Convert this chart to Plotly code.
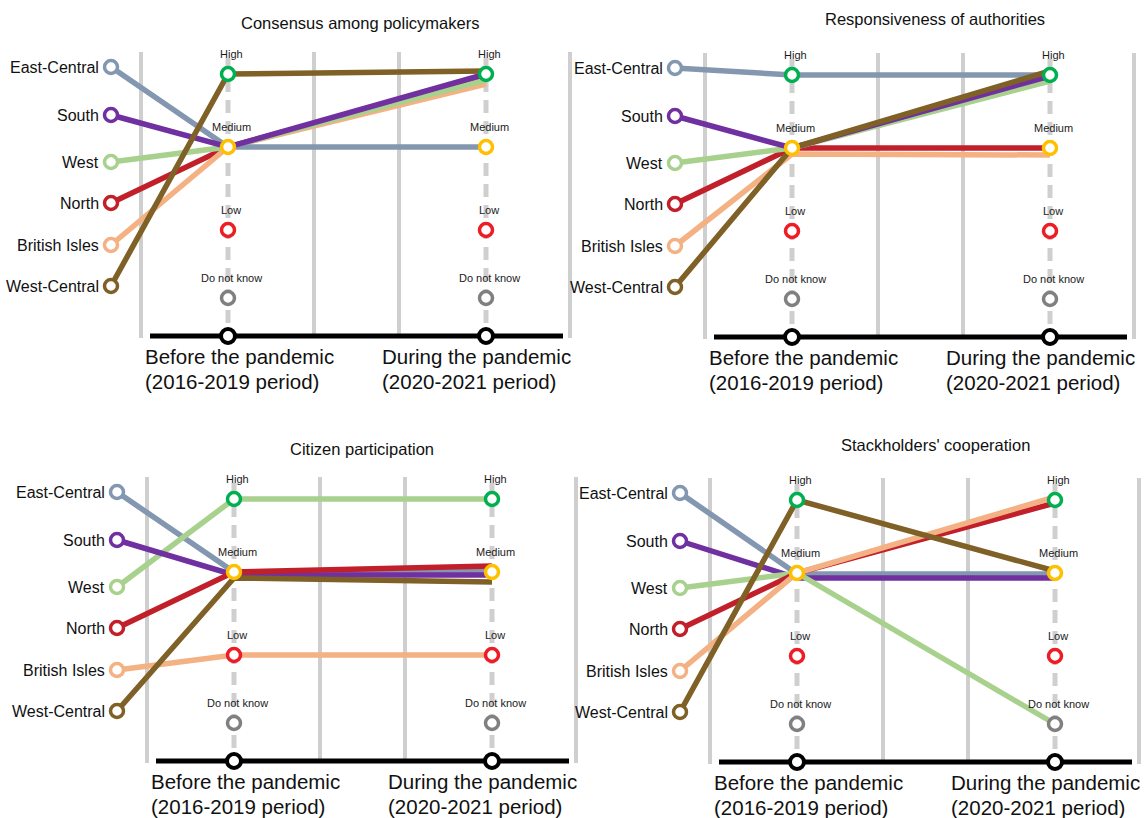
import plotly.graph_objects as go

# ---------------- data ----------------
regions = ["East-Central", "South", "West", "North", "British Isles", "West-Central"]
levels = ["High", "Medium", "Low", "Do not know"]
period_names = ["Before the pandemic", "During the pandemic"]
period_spans = ["(2016-2019 period)", "(2020-2021 period)"]
titles = ["Consensus among policymakers", "Responsiveness of authorities",
          "Citizen participation", "Stackholders' cooperation"]

consensus_before = ["Medium", "Medium", "Medium", "Medium", "Medium", "High"]
consensus_during = ["Medium", "High", "High", "High", "High", "High"]
responsiveness_before = ["High", "Medium", "Medium", "Medium", "Medium", "Medium"]
responsiveness_during = ["High", "High", "High", "Medium", "Medium", "High"]
citizen_before = ["Medium", "Medium", "High", "Medium", "Low", "Medium"]
citizen_during = ["Medium", "Medium", "High", "Medium", "Low", "Medium"]
stakeholder_before = ["Medium", "Medium", "Medium", "Medium", "Medium", "High"]
stakeholder_during = ["Medium", "Medium", "Do not know", "High", "High", "Medium"]

panels = [
    (titles[0], consensus_before, consensus_during),
    (titles[1], responsiveness_before, responsiveness_during),
    (titles[2], citizen_before, citizen_during),
    (titles[3], stakeholder_before, stakeholder_during),
]

# ---------------- style / layout ----------------
FONT = "Liberation Sans, Arial, Helvetica, sans-serif"
region_colors = ["#8497b0", "#7030a0", "#a9d18e", "#c1202b", "#f4b183", "#7f6026"]
level_colors = {"High": "#00b050", "Medium": "#ffc000", "Low": "#ee1c25", "Do not know": "#808080"}
GRAY = "#cfcfcf"
LINE_W = 5.5

# panel template geometry (local units)
REGION_X = 111
COL_X = [228, 486]
GRAY_X = [141, 314, 399, 570]
AXIS_SPAN = (150, 563)
REGION_Y = [67, 115, 162, 203, 245, 286]
LEVEL_Y = {"High": 74, "Medium": 147, "Low": 230, "Do not know": 298}
AXIS_Y = 336
GRAY_TOP, GRAY_BOT = 52, 338
COL_TOP = 58

panel_offsets = [(0, 0), (564, 1), (6, 425), (569, 426)]
title_pos = [(360, 23), (371, 18), (356, 24), (366, 19)]
period_label_x = [143, 380]
period_label_y = [356, 381]

# small vertical shifts so overlapping lines stay visible (start, end) in px
line_shift = [
    {0: (0, 0), 1: (0, 0), 2: (0, 6), 3: (0, 3), 4: (0, 10), 5: (0, -3)},
    {0: (0, 0), 1: (0, 1), 2: (0, 6), 3: (0, 0), 4: (6, 7), 5: (0, -4)},
    {0: (0, -1), 1: (3, 3), 2: (0, 0), 3: (0, -6), 4: (0, 0), 5: (6, 10)},
    {0: (1, 1), 1: (5, 5), 2: (0, 0), 3: (0, 3), 4: (0, -3), 5: (0, -2)},
]
draw_order = [
    [3, 4, 2, 0, 1, 5],
    [0, 4, 3, 2, 1, 5],
    [0, 2, 4, 1, 3, 5],
    [0, 1, 2, 3, 4, 5],
]

W, H = 1146, 818
fig = go.Figure()
annotations = []

for p, (title, before, during) in enumerate(panels):
    ox, oy = panel_offsets[p]
    sfx = "" if p == 0 else str(p + 1)
    xa, ya = "x" + sfx, "y" + sfx
    fig.update_layout({
        "xaxis" + sfx: dict(domain=[0, 1], range=[-ox, W - ox], visible=False, fixedrange=True),
        "yaxis" + sfx: dict(domain=[0, 1], range=[H - oy, -oy], visible=False, fixedrange=True),
    })

    # gray solid vertical guides
    gx, gy = [], []
    for x in GRAY_X:
        gx += [x, x, None]
        gy += [GRAY_TOP, GRAY_BOT, None]
    fig.add_trace(go.Scatter(x=gx, y=gy, mode="lines", line=dict(color=GRAY, width=4),
                             xaxis=xa, yaxis=ya, hoverinfo="skip"))
    # dashed period columns
    for cx in COL_X:
        fig.add_trace(go.Scatter(x=[cx, cx], y=[COL_TOP, AXIS_Y], mode="lines",
                                 line=dict(color=GRAY, width=5, dash="13px,8px"),
                                 xaxis=xa, yaxis=ya, hoverinfo="skip"))
    # black time axis
    fig.add_trace(go.Scatter(x=list(AXIS_SPAN), y=[AXIS_Y, AXIS_Y], mode="lines",
                             line=dict(color="black", width=5), xaxis=xa, yaxis=ya, hoverinfo="skip"))

    # region lines
    for i in draw_order[p]:
        ds, de = line_shift[p][i]
        fig.add_trace(go.Scatter(
            x=[REGION_X, COL_X[0], COL_X[1]],
            y=[REGION_Y[i], LEVEL_Y[before[i]] + ds, LEVEL_Y[during[i]] + de],
            mode="lines", line=dict(color=region_colors[i], width=LINE_W),
            xaxis=xa, yaxis=ya, name=regions[i], hoverinfo="skip"))

    # level stations
    for cx in COL_X:
        fig.add_trace(go.Scatter(
            x=[cx] * len(levels), y=[LEVEL_Y[l] for l in levels], mode="markers",
            marker=dict(size=13, color="white",
                        line=dict(color=[level_colors[l] for l in levels], width=3.5)),
            xaxis=xa, yaxis=ya, hoverinfo="skip", cliponaxis=False))
        for l in levels:
            annotations.append(dict(x=cx + 3, y=LEVEL_Y[l] - 20, xref=xa, yref=ya, text=l,
                                    showarrow=False, xanchor="center", yanchor="middle",
                                    font=dict(family=FONT, size=11, color="#1a1a1a")))
    # axis stations
    fig.add_trace(go.Scatter(x=COL_X, y=[AXIS_Y, AXIS_Y], mode="markers",
                             marker=dict(size=14, color="white", line=dict(color="black", width=4)),
                             xaxis=xa, yaxis=ya, hoverinfo="skip", cliponaxis=False))
    # region stations
    fig.add_trace(go.Scatter(x=[REGION_X] * len(regions), y=REGION_Y, mode="markers",
                             marker=dict(size=13, color="white",
                                         line=dict(color=region_colors, width=3.5)),
                             xaxis=xa, yaxis=ya, hoverinfo="skip", cliponaxis=False))
    for i, r in enumerate(regions):
        annotations.append(dict(x=REGION_X - 10, y=REGION_Y[i], xref=xa, yref=ya, text=r,
                                showarrow=False, xanchor="right", yanchor="middle",
                                font=dict(family=FONT, size=16, color="#111")))
    # title
    tx, ty = title_pos[p]
    annotations.append(dict(x=tx, y=ty, xref=xa, yref=ya, text=title, showarrow=False,
                            xanchor="center", yanchor="middle",
                            font=dict(family=FONT, size=16.5, color="#111")))
    # period labels
    for k in range(2):
        for line_text, ly in zip([period_names[k], period_spans[k]], period_label_y):
            annotations.append(dict(x=period_label_x[k], y=ly, xref=xa, yref=ya, text=line_text,
                                    showarrow=False, xanchor="left", yanchor="middle",
                                    font=dict(family=FONT, size=20.5, color="#111")))

fig.update_layout(
    width=W, height=H, margin=dict(l=0, r=0, t=0, b=0),
    paper_bgcolor="white", plot_bgcolor="rgba(0,0,0,0)", showlegend=False,
    annotations=annotations,
)
fig.write_html("out.html", config={"displayModeBar": False, "staticPlot": True},
               post_script="document.body.style.margin='0';document.body.style.overflow='hidden';")
